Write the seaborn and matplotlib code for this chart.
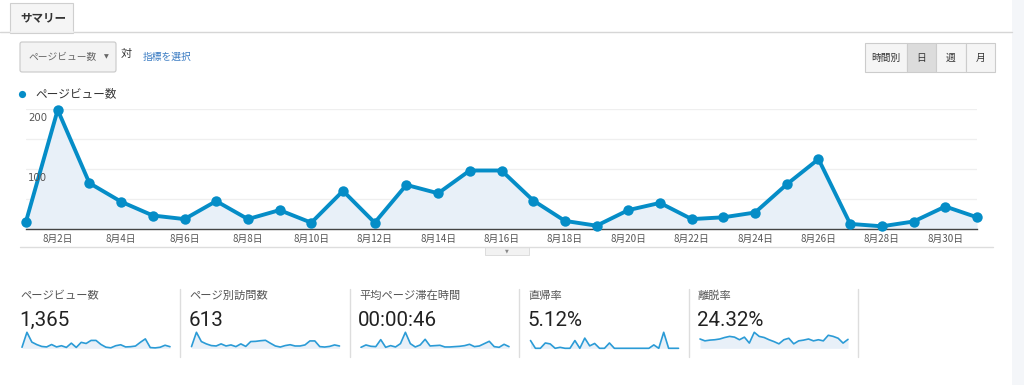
import matplotlib
matplotlib.use("Agg")
import matplotlib.pyplot as plt
from matplotlib.patches import Rectangle, FancyBboxPatch, Circle
import matplotlib.transforms as mtransforms
import pandas as pd
import seaborn as sns

sns.set_theme(style="white")
plt.rcParams["font.family"] = ["Noto Sans CJK JP", "DejaVu Sans"]

# ---- data ----
DAYS = list(range(1, 32))
PAGEVIEWS = [13, 199, 77, 46, 23, 17, 47, 17, 32, 11, 64, 11, 74, 60, 98, 98,
             48, 14, 6, 32, 44, 17, 20, 28, 75, 117, 9, 5, 13, 38, 20]
SESSIONS = [8, 76, 32, 21, 13, 11, 21, 11, 16, 8, 21, 9, 32, 33, 36, 38,
            24, 11, 6, 13, 17, 11, 11, 16, 35, 35, 8, 6, 9, 16, 11]
AVG_TIME = [12, 40, 24, 20, 104, 12, 32, 16, 56, 192, 56, 16, 40, 108, 28, 32,
            36, 16, 16, 20, 24, 32, 48, 20, 28, 56, 84, 20, 12, 48, 20]
BOUNCE = [16, 0, 0, 11, 9, 0, 2, 0, 0, 16, 0, 21, 5, 10, 0, 0,
          11, 0, 0, 0, 0, 0, 0, 0, 0, 7, 0, 33, 0, 0, 0]
EXIT = [25, 20, 22, 23, 25, 29, 32, 30, 23, 30, 14, 43, 32, 29, 23, 18,
        12, 23, 27, 12, 20, 22, 25, 20, 23, 20, 35, 32, 27, 14, 24]

XTICK_DAYS = list(range(2, 31, 2))
XTICK_LABELS = [f"8月{d}日" for d in XTICK_DAYS]
GRID_TICKS = [50, 100, 150, 200]
YTICK_LABELS = [100, 200]

METRIC_NAMES = ["ページビュー数", "ページ別訪問数", "平均ページ滞在時間", "直帰率", "離脱率"]
METRIC_VALUES = ["1,365", "613", "00:00:46", "5.12%", "24.32%"]
SPARK_SERIES = [PAGEVIEWS, SESSIONS, AVG_TIME, BOUNCE, EXIT]
BUTTONS = ["時間別", "日", "週", "月"]

W, H = 1024, 385
BLUE = "#058dc7"
SPARK_BLUE = "#2b9bd6"
FILL = "#e8f0f8"

fig = plt.figure(figsize=(W / 100, H / 100), dpi=100)
fig.patch.set_facecolor("white")

# background axes in pixel coordinates for the UI chrome
bg = fig.add_axes([0, 0, 1, 1])
bg.set_xlim(0, W)
bg.set_ylim(H, 0)
bg.axis("off")


def px_axes(x0, y0, x1, y1):
    a = fig.add_axes([x0 / W, 1 - y1 / H, (x1 - x0) / W, (y1 - y0) / H])
    a.patch.set_alpha(0)
    return a


# right grey strip
bg.add_patch(Rectangle((1012, 0), 12, H, color="#f4f6f9", lw=0))

# tab
bg.plot([0, 1012], [32, 32], color="#d6d6d6", lw=1)
bg.add_patch(Rectangle((10, 3), 63, 29.5, facecolor="#f5f5f5", edgecolor="#cfcfcf", lw=0.8))
bg.plot([10.5, 72.5], [32, 32], color="#f5f5f5", lw=1.2)
bg.text(20, 18, "サマリー", fontsize=8.3, fontweight="bold", color="#333333", va="center")

# metric dropdown
bg.add_patch(FancyBboxPatch((20, 42), 96, 30, boxstyle="round,pad=0,rounding_size=2",
                            facecolor="#f3f3f3", edgecolor="#c8c8c8", lw=0.8))
bg.text(28, 57, "ページビュー数", fontsize=7, color="#666666", va="center")
bg.text(106, 57, "▼", fontsize=4.5, color="#666666", va="center", ha="center",
        family="DejaVu Sans")
bg.text(121, 54, "対", fontsize=8, color="#333333", va="center")
bg.text(143, 57, "指標を選択", fontsize=7, color="#3b7cc3", va="center")

# period buttons
bx = [865, 907, 936, 966, 995]
for i, label in enumerate(BUTTONS):
    face = "#dcdcdc" if label == "日" else "#f5f5f5"
    bg.add_patch(Rectangle((bx[i], 43), bx[i + 1] - bx[i], 29, facecolor=face,
                           edgecolor="#cccccc", lw=0.8))
    bg.text((bx[i] + bx[i + 1]) / 2, 57.5, label, fontsize=7, color="#333333",
            ha="center", va="center")

# legend
bg.add_patch(Circle((22.5, 94.5), 3.6, color=BLUE, lw=0))
bg.text(35, 94, "ページビュー数", fontsize=8.4, color="#333333", va="center")

# separator under chart + small collapse tab
bg.plot([20, 993], [247, 247], color="#dddddd", lw=1)
bg.add_patch(Rectangle((485, 247), 44, 8, facecolor="#f2f2f2", edgecolor="#d8d8d8", lw=0.6))
bg.text(507, 251, "▼", fontsize=3.5, color="#888888", ha="center", va="center",
        family="DejaVu Sans")

# ---- main chart ----
df = pd.DataFrame({"day": DAYS, "pv": PAGEVIEWS})
ax = px_axes(26, 109.3, 977, 229.3)
ax.fill_between(df["day"], df["pv"], color=FILL, lw=0, zorder=1)
sns.lineplot(data=df, x="day", y="pv", ax=ax, color=BLUE, lw=2.8, marker="o",
             markersize=7.5, markeredgewidth=0, zorder=3, clip_on=False)
ax.set_xlim(1, 31)
ax.set_ylim(0, 200)
ax.set_yticks(GRID_TICKS)
ax.set_yticklabels([])
ax.yaxis.grid(True, color="#efefef", lw=0.9)
ax.xaxis.grid(False)
ax.tick_params(axis="y", length=0)
for s in ["top", "left", "right"]:
    ax.spines[s].set_visible(False)
ax.spines["bottom"].set_color("#444444")
ax.spines["bottom"].set_linewidth(1.0)
ax.set_xticks(XTICK_DAYS)
ax.set_xticklabels(XTICK_LABELS, fontsize=7, color="#555555")
ax.tick_params(axis="x", length=0, pad=3.5)
ax.set_xlabel("")
ax.set_ylabel("")
trans = mtransforms.blended_transform_factory(ax.transAxes, ax.transData)
for v in YTICK_LABELS:
    ax.annotate(str(v), xy=(0, v), xycoords=trans, xytext=(1.5, -3),
                textcoords="offset points", ha="left", va="top",
                fontsize=7.3, color="#555555", family=["DejaVu Sans"])

# ---- metric panels ----
for i, (name, value, series) in enumerate(zip(METRIC_NAMES, METRIC_VALUES, SPARK_SERIES)):
    x0 = 20 + 169.5 * i
    bg.text(x0, 296, name, fontsize=8.1, color="#555555", va="center")
    bg.text(x0 - 1, 320, value, fontsize=14.8, color="#222222", va="center",
            family=["Roboto", "DejaVu Sans"])
    bg.plot([x0 + 160, x0 + 160], [289, 357], color="#dddddd", lw=1)

    sp = px_axes(x0 + 2, 332.3, x0 + 150, 348.3)
    sdf = pd.DataFrame({"day": DAYS, "v": series})
    sp.fill_between(sdf["day"], sdf["v"], color=FILL, lw=0)
    sns.lineplot(data=sdf, x="day", y="v", ax=sp, color=SPARK_BLUE, lw=1.2,
                 clip_on=False)
    sp.set_xlim(1, 31)
    sp.set_ylim(0, max(series))
    sp.axis("off")

fig.savefig("out.png", dpi=100, facecolor="white")
